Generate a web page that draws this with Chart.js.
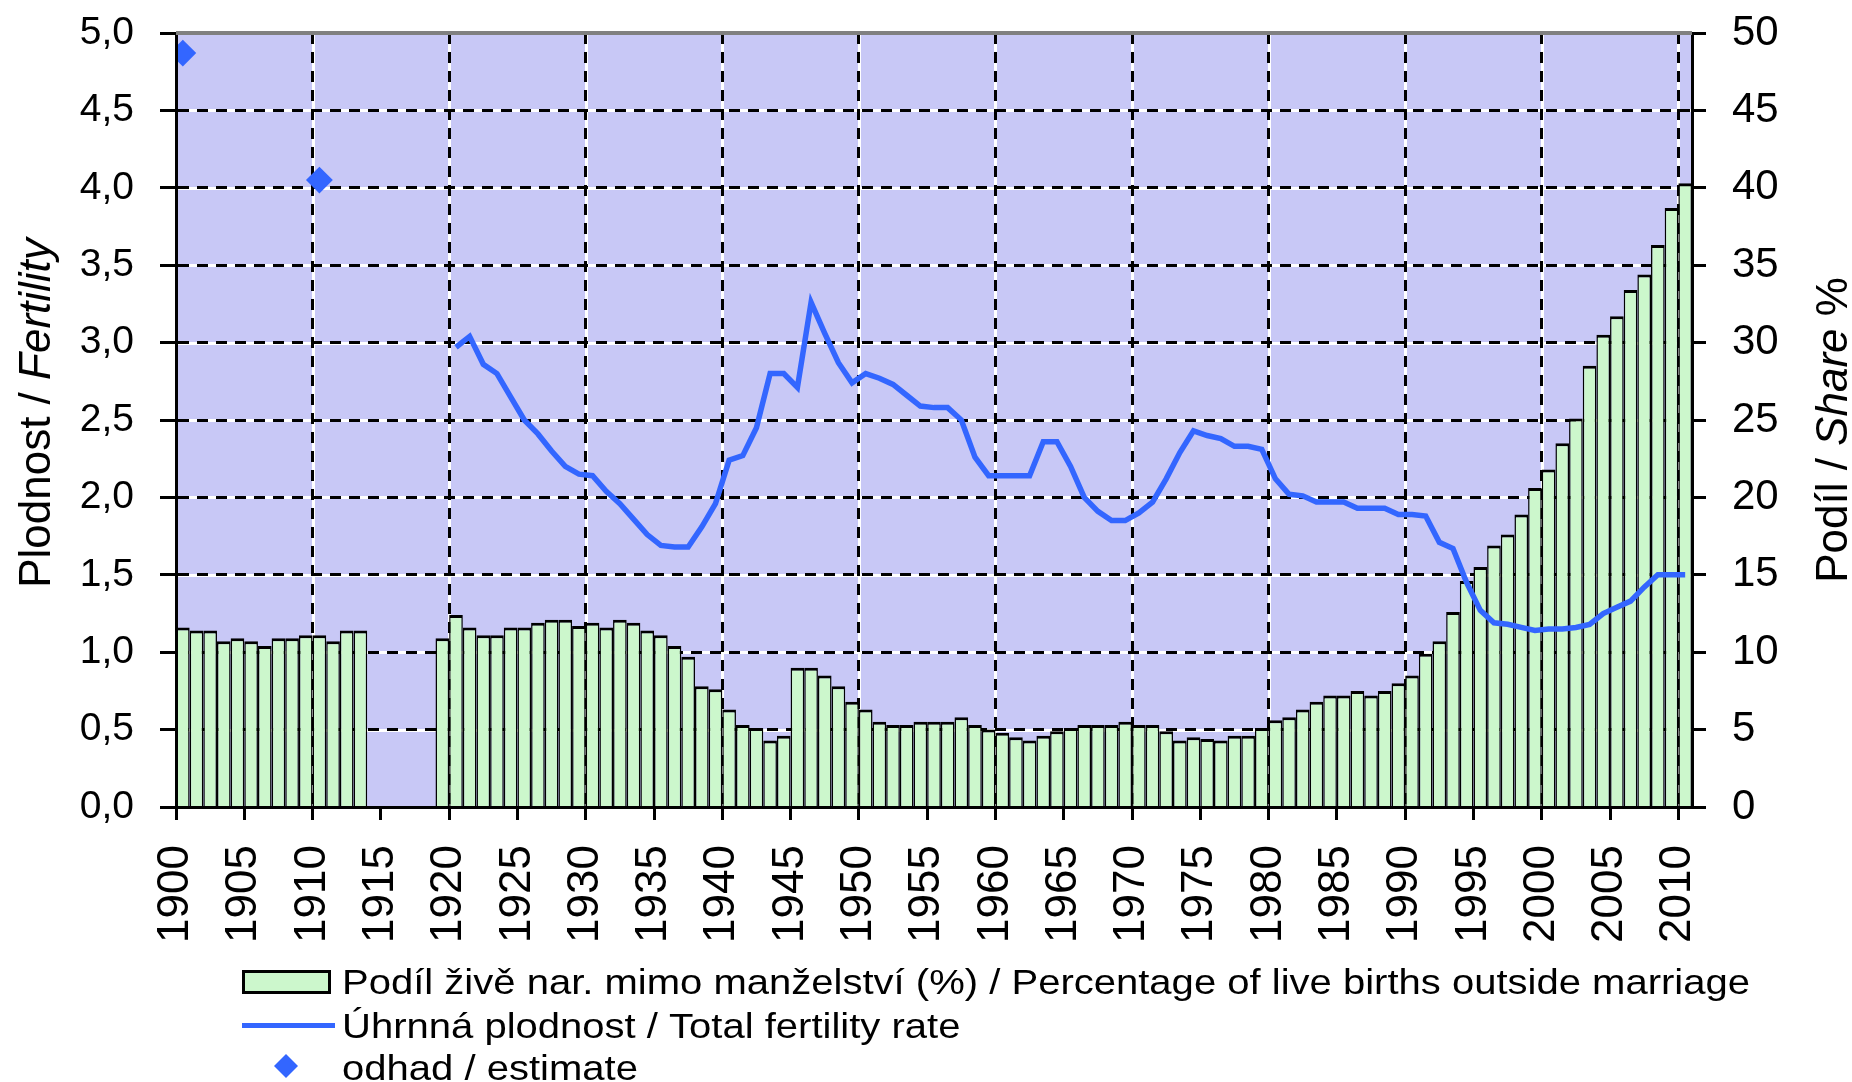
<!DOCTYPE html>
<html>
<head>
<meta charset="utf-8">
<script src="https://cdn.jsdelivr.net/npm/chart.js@4.4.1/dist/chart.umd.min.js"></script>
<style>
  html, body { margin: 0; padding: 0; background: #fff; }
  #wrap { width: 1852px; height: 1082px; position: relative; }
</style>
</head>
<body>
<div id="wrap"><canvas id="chart"></canvas></div>
<script>
// share of live births outside marriage (%), right axis
const shareEarlyStart = 1900;
const shareEarly = [11.6, 11.4, 11.4, 10.7, 10.9, 10.7, 10.4, 10.9, 10.9, 11.1,
  11.1, 10.7, 11.4, 11.4];
const shareLateStart = 1919;
const shareLate = [10.9,
  12.4, 11.6, 11.1, 11.1, 11.6, 11.6, 11.9, 12.1, 12.1, 11.7,   // 1920s
  11.9, 11.6, 12.1, 11.9, 11.4, 11.1, 10.4, 9.7, 7.8, 7.6,      // 1930s
  6.3, 5.3, 5.1, 4.3, 4.6, 9.0, 9.0, 8.5, 7.8, 6.8,             // 1940s
  6.3, 5.5, 5.3, 5.3, 5.5, 5.5, 5.5, 5.8, 5.3, 5.0,             // 1950s
  4.8, 4.5, 4.3, 4.6, 4.9, 5.1, 5.3, 5.3, 5.3, 5.5,             // 1960s
  5.3, 5.3, 4.9, 4.3, 4.5, 4.4, 4.3, 4.6, 4.6, 5.1,             // 1970s
  5.6, 5.8, 6.3, 6.8, 7.2, 7.2, 7.5, 7.2, 7.5, 8.0,             // 1980s
  8.5, 9.9, 10.7, 12.6, 14.6, 15.5, 16.9, 17.6, 18.9, 20.6,     // 1990s
  21.8, 23.5, 25.1, 28.5, 30.5, 31.7, 33.4, 34.4, 36.3, 38.7,   // 2000s
  40.3];

// total fertility rate, left axis
const tfrStart = 1920;
const tfr = [
  2.97, 3.04, 2.86, 2.80, 2.65, 2.50, 2.41, 2.30, 2.20, 2.15,   // 1920s
  2.14, 2.04, 1.96, 1.86, 1.76, 1.69, 1.68, 1.68, 1.81, 1.96,   // 1930s
  2.24, 2.27, 2.45, 2.80, 2.80, 2.71, 3.26, 3.06, 2.87, 2.74,   // 1940s
  2.80, 2.77, 2.73, 2.66, 2.59, 2.58, 2.58, 2.50, 2.26, 2.14,   // 1950s
  2.14, 2.14, 2.14, 2.36, 2.36, 2.20, 2.00, 1.91, 1.85, 1.85,   // 1960s
  1.90, 1.97, 2.12, 2.29, 2.43, 2.40, 2.38, 2.33, 2.33, 2.31,   // 1970s
  2.12, 2.02, 2.01, 1.97, 1.97, 1.97, 1.93, 1.93, 1.93, 1.89,   // 1980s
  1.89, 1.88, 1.71, 1.67, 1.45, 1.27, 1.19, 1.18, 1.16, 1.14,   // 1990s
  1.15, 1.15, 1.16, 1.18, 1.25, 1.29, 1.33, 1.42, 1.50, 1.50,   // 2000s
  1.50];

// estimates of total fertility
const estimateYears = [1900, 1910];
const estimates = [4.87, 4.05];

const legendLabels = [
  'Podíl živě nar. mimo manželství (%) / Percentage of live births outside marriage',
  'Úhrnná plodnost / Total fertility rate',
  'odhad / estimate'
];

const FONT = "'Liberation Sans', Arial, sans-serif";
const PLOT_BG = '#C8C8F6';
const BAR_FILL = '#CCF7CC';
const BLUE = '#3366FF';
const DASH = [11, 8];
const GRID_W = 3;

// bars sit in [year, year+1), so the point goes to the middle
function yearPoints(start, values) {
  return values.map((v, i) => ({ x: start + i + 0.5, y: v }));
}

const shareData = yearPoints(shareEarlyStart, shareEarly).concat(yearPoints(shareLateStart, shareLate));
const tfrData = yearPoints(tfrStart, tfr);
const estimateData = estimateYears.map((yr, i) => ({ x: yr + 0.5, y: estimates[i] }));

function drawRotatedParts(ctx, x, y, parts, size) {
  let total = 0;
  parts.forEach(p => {
    ctx.font = (p.italic ? 'italic ' : '') + size + 'px ' + FONT;
    p.w = ctx.measureText(p.text).width;
    total += p.w;
  });
  ctx.save();
  ctx.translate(x, y);
  ctx.rotate(-Math.PI / 2);
  ctx.fillStyle = '#000';
  ctx.textBaseline = 'alphabetic';
  ctx.textAlign = 'left';
  let pos = -total / 2;
  parts.forEach(p => {
    ctx.font = (p.italic ? 'italic ' : '') + size + 'px ' + FONT;
    ctx.fillText(p.text, pos, 0);
    pos += p.w;
  });
  ctx.restore();
}

// legend text is a bit wider than Liberation Sans, so stretch it slightly
function legendText(ctx, text, x, y, stretch) {
  ctx.save();
  ctx.translate(x, y);
  ctx.scale(stretch, 1);
  ctx.fillText(text, 0, 0);
  ctx.restore();
}

const decorations = {
  id: 'decorations',
  beforeDraw(chart) {
    const { ctx, chartArea: a, scales } = chart;
    ctx.save();
    ctx.fillStyle = PLOT_BG;
    ctx.fillRect(a.left, a.top, a.right - a.left, a.bottom - a.top);
    // white line under every dashed grid line
    ctx.strokeStyle = '#fff';
    ctx.lineWidth = GRID_W;
    ctx.beginPath();
    scales.x.ticks.forEach(t => {
      if (t.value % 10 === 0 && t.value > 1900) {
        const px = Math.round(scales.x.getPixelForValue(t.value)) + 0.5;
        ctx.moveTo(px, a.top);
        ctx.lineTo(px, a.bottom);
      }
    });
    scales.y.ticks.forEach(t => {
      if (t.value > 0 && t.value < 5) {
        const py = Math.round(scales.y.getPixelForValue(t.value)) + 0.5;
        ctx.moveTo(a.left, py);
        ctx.lineTo(a.right, py);
      }
    });
    ctx.stroke();
    ctx.restore();
  },
  afterDraw(chart) {
    const { ctx, chartArea: a } = chart;
    ctx.save();
    // grey frame line on top of the plot
    ctx.strokeStyle = '#808080';
    ctx.lineWidth = 4;
    ctx.beginPath();
    ctx.moveTo(a.left, a.top);
    ctx.lineTo(a.right, a.top);
    ctx.stroke();
    ctx.restore();

    drawRotatedParts(ctx, 50, 413, [{ text: 'Plodnost / ' }, { text: 'Fertility', italic: true }], 44);
    drawRotatedParts(ctx, 1847, 430, [{ text: 'Podíl / ' }, { text: 'Share', italic: true }, { text: ' %' }], 44);

    // legend, one item per row
    ctx.save();
    ctx.font = '35px ' + FONT;
    const stretch = 1408 / ctx.measureText(legendLabels[0]).width;
    ctx.textBaseline = 'alphabetic';
    const tx = 342;
    ctx.fillStyle = BAR_FILL;
    ctx.fillRect(243, 971, 86, 21);
    ctx.strokeStyle = '#000';
    ctx.lineWidth = 3;
    ctx.strokeRect(243.5, 971.5, 86, 21);
    ctx.fillStyle = '#000';
    legendText(ctx, legendLabels[0], tx, 994, stretch);

    ctx.strokeStyle = BLUE;
    ctx.lineWidth = 5;
    ctx.beginPath();
    ctx.moveTo(242, 1025.5);
    ctx.lineTo(335, 1025.5);
    ctx.stroke();
    legendText(ctx, legendLabels[1], tx, 1038, stretch);

    ctx.fillStyle = BLUE;
    ctx.beginPath();
    ctx.moveTo(286, 1054);
    ctx.lineTo(298, 1066);
    ctx.lineTo(286, 1078);
    ctx.lineTo(274, 1066);
    ctx.closePath();
    ctx.fill();
    ctx.fillStyle = '#000';
    legendText(ctx, legendLabels[2], tx, 1080, stretch);
    ctx.restore();
  }
};

const clear = 'rgba(0,0,0,0)';

// keep the plot box where the original puts it
function noOverflow(s) {
  s.paddingTop = 0;
  s.paddingBottom = 0;
  s.paddingLeft = 0;
  s.paddingRight = 0;
}

new Chart(document.getElementById('chart'), {
  type: 'bar',
  data: {
    datasets: [
      {
        type: 'line',
        label: legendLabels[2],
        data: estimateData,
        yAxisID: 'y',
        showLine: false,
        pointStyle: 'rectRot',
        pointRadius: 12,
        pointBackgroundColor: BLUE,
        pointBorderColor: BLUE,
        pointBorderWidth: 2,
        order: 1
      },
      {
        type: 'line',
        label: legendLabels[1],
        data: tfrData,
        yAxisID: 'y',
        borderColor: BLUE,
        borderWidth: 5.5,
        pointRadius: 0,
        tension: 0,
        fill: false,
        order: 2
      },
      {
        type: 'bar',
        label: legendLabels[0],
        data: shareData,
        yAxisID: 'y2',
        backgroundColor: BAR_FILL,
        borderColor: '#000',
        borderWidth: { top: 3, left: 1.5, right: 1.5, bottom: 0 },
        borderSkipped: 'start',
        barPercentage: 1,
        categoryPercentage: 1,
        inflateAmount: 0,
        order: 3
      }
    ]
  },
  options: {
    responsive: true,
    maintainAspectRatio: false,
    devicePixelRatio: 1,
    animation: false,
    events: [],
    layout: { padding: { top: 33, left: 0, right: 0, bottom: 0 } },
    plugins: {
      legend: { display: false },
      tooltip: { enabled: false }
    },
    scales: {
      x: {
        type: 'linear',
        min: 1900,
        max: 2011,
        offset: false,
        grid: {
          offset: false,
          color: c => (c.tick && c.tick.value % 10 === 0) ? '#000' : clear,
          lineWidth: GRID_W,
          borderDash: DASH,
          tickColor: '#000',
          tickWidth: 3,
          tickLength: 13,
          tickBorderDash: []
        },
        border: { display: true, color: '#000', width: 3, dash: DASH, z: 1 },
        ticks: {
          stepSize: 5,
          includeBounds: false,
          autoSkip: false,
          maxRotation: 90,
          minRotation: 90,
          padding: 25,
          color: '#000',
          font: { family: FONT, size: 44 },
          callback: v => String(v)
        },
        afterFit: s => { s.height = 275; noOverflow(s); }
      },
      y: {
        type: 'linear',
        position: 'left',
        min: 0,
        max: 5,
        grid: {
          color: c => (c.tick && c.tick.value > 0 && c.tick.value < 5) ? '#000' : clear,
          lineWidth: GRID_W,
          borderDash: DASH,
          tickColor: '#000',
          tickWidth: 3,
          tickLength: 16,
          tickBorderDash: []
        },
        border: { display: true, color: '#000', width: 3, dash: DASH, z: 1 },
        ticks: {
          stepSize: 0.5,
          padding: 26,
          color: '#000',
          font: { family: FONT, size: 39 },
          callback: v => v.toFixed(1).replace('.', ',')
        },
        afterFit: s => { s.width = 176; noOverflow(s); }
      },
      y2: {
        type: 'linear',
        position: 'right',
        min: 0,
        max: 50,
        grid: {
          drawOnChartArea: false,
          color: '#000',
          tickColor: '#000',
          tickWidth: 3,
          tickLength: 14
        },
        border: { display: true, color: '#000', width: 3, z: 1 },
        ticks: {
          stepSize: 5,
          padding: 26,
          color: '#000',
          font: { family: FONT, size: 42 }
        },
        afterFit: s => { s.width = 160; noOverflow(s); }
      }
    }
  },
  plugins: [decorations]
});
</script>
</body>
</html>
